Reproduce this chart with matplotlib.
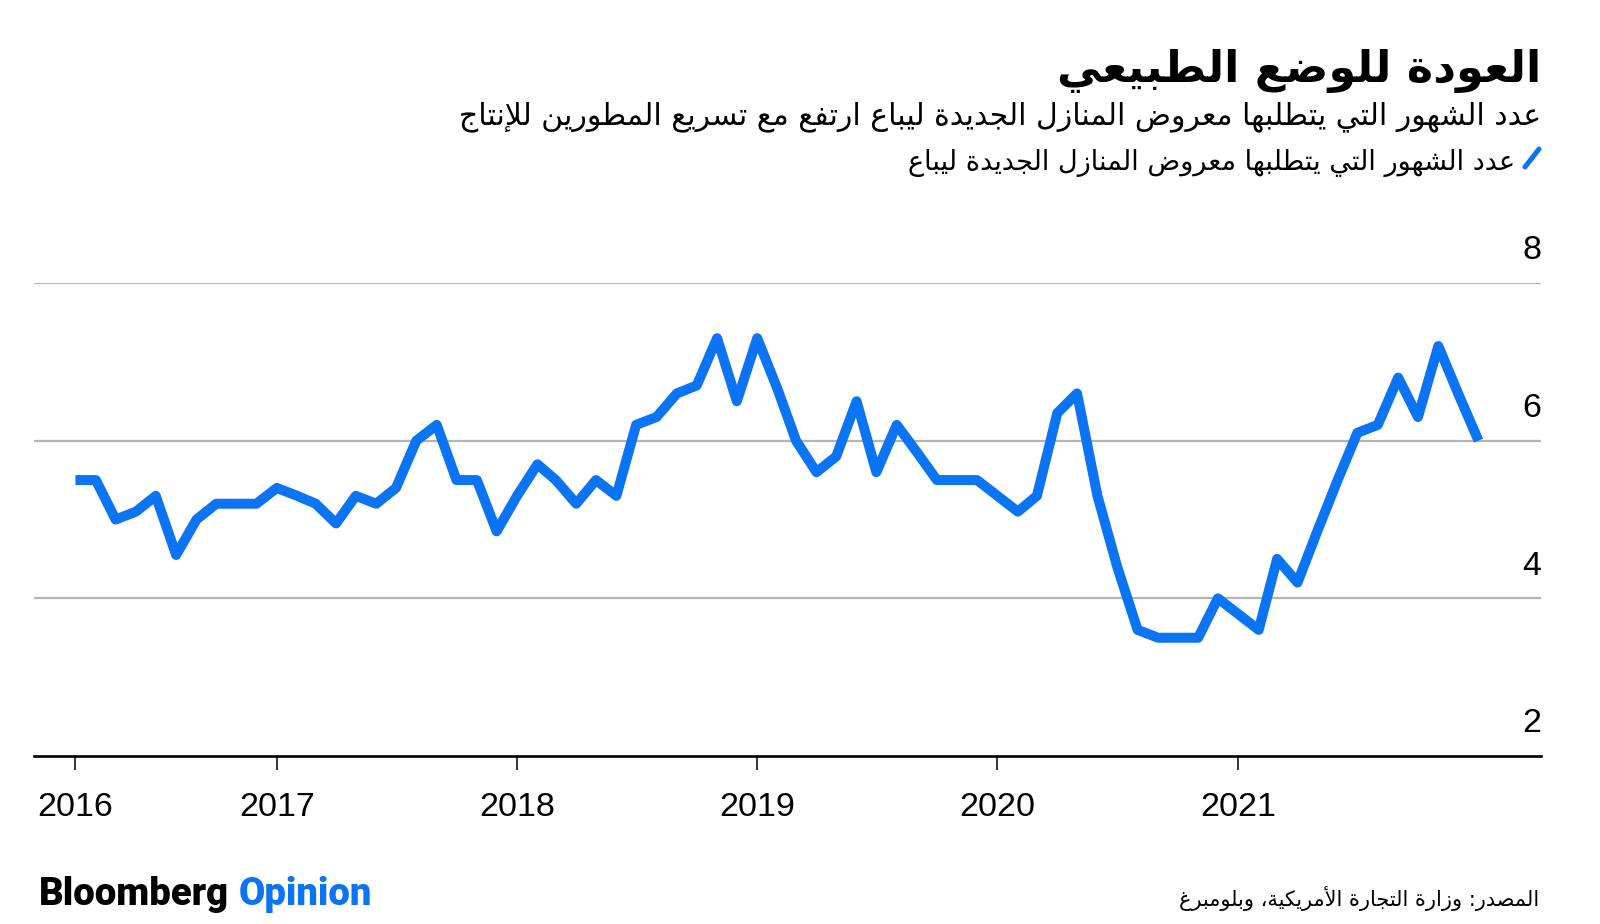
import matplotlib
matplotlib.use('Agg')
import matplotlib.pyplot as plt
import pandas as pd

# months' supply of new homes, Mar 2016 .. Jan 2022
months = pd.date_range('2016-03-01', '2022-01-01', freq='MS')
supply = [5.5, 5.5, 5.0, 5.1, 5.3, 4.55, 5.0, 5.2, 5.2, 5.2,
          5.4, 5.3, 5.2, 4.95, 5.3, 5.2, 5.4, 6.0, 6.2, 5.5, 5.5, 4.85,
          5.3, 5.7, 5.5, 5.2, 5.5, 5.3, 6.2, 6.3, 6.6, 6.7, 7.3, 6.5,
          7.3, 6.65, 6.0, 5.6, 5.8, 6.5, 5.6, 6.2, 5.85, 5.5, 5.5, 5.5,
          5.3, 5.1, 5.3, 6.35, 6.6, 5.3, 4.4, 3.6, 3.5, 3.5, 3.5, 4.0,
          3.8, 3.6, 4.5, 4.2, 4.85, 5.5, 6.1, 6.2, 6.8, 6.3, 7.2, 6.6,
          6.0]

year_ticks = pd.to_datetime(['2016-03-01', '2017-01-01', '2018-01-01',
                             '2019-01-01', '2020-01-01', '2021-01-01'])
year_labels = ['2016', '2017', '2018', '2019', '2020', '2021']
y_grid = [4, 6, 8]
y_labels = [2, 4, 6, 8]

title = 'العودة للوضع الطبيعي'
subtitle = 'عدد الشهور التي يتطلبها معروض المنازل الجديدة ليباع ارتفع مع تسريع المطورين للإنتاج'
legend_label = 'عدد الشهور التي يتطلبها معروض المنازل الجديدة ليباع'
source = 'المصدر: وزارة التجارة الأمريكية، وبلومبرغ'

BLUE = '#0b74f4'

# matplotlib has no arabic shaping, so pick the presentation forms by hand
# value: (isolated form, number of forms: 2 = joins only to the previous letter)
AR_FORMS = {
    'ء': (0xFE80, 1), 'آ': (0xFE81, 2), 'أ': (0xFE83, 2), 'ؤ': (0xFE85, 2),
    'إ': (0xFE87, 2), 'ئ': (0xFE89, 4), 'ا': (0xFE8D, 2), 'ب': (0xFE8F, 4),
    'ة': (0xFE93, 2), 'ت': (0xFE95, 4), 'ث': (0xFE99, 4), 'ج': (0xFE9D, 4),
    'ح': (0xFEA1, 4), 'خ': (0xFEA5, 4), 'د': (0xFEA9, 2), 'ذ': (0xFEAB, 2),
    'ر': (0xFEAD, 2), 'ز': (0xFEAF, 2), 'س': (0xFEB1, 4), 'ش': (0xFEB5, 4),
    'ص': (0xFEB9, 4), 'ض': (0xFEBD, 4), 'ط': (0xFEC1, 4), 'ظ': (0xFEC5, 4),
    'ع': (0xFEC9, 4), 'غ': (0xFECD, 4), 'ف': (0xFED1, 4), 'ق': (0xFED5, 4),
    'ك': (0xFED9, 4), 'ل': (0xFEDD, 4), 'م': (0xFEE1, 4), 'ن': (0xFEE5, 4),
    'ه': (0xFEE9, 4), 'و': (0xFEED, 2), 'ى': (0xFEEF, 2), 'ي': (0xFEF1, 4),
}
LAM_ALEF = {'آ': 0xFEF5, 'أ': 0xFEF7, 'إ': 0xFEF9, 'ا': 0xFEFB}


def joins_next(c):
    return c in AR_FORMS and AR_FORMS[c][1] == 4


def joins_prev(c):
    return c in AR_FORMS and AR_FORMS[c][1] > 1


def shape_ar(text):
    out = []
    prev = None
    i = 0
    while i < len(text):
        c = text[i]
        nxt = text[i + 1] if i + 1 < len(text) else None
        if c not in AR_FORMS:
            out.append(c)
            prev = None
            i += 1
            continue
        from_prev = prev is not None and joins_next(prev)
        if c == 'ل' and nxt in LAM_ALEF:
            out.append(chr(LAM_ALEF[nxt] + (1 if from_prev else 0)))
            prev = nxt
            i += 2
            continue
        base, nforms = AR_FORMS[c]
        to_next = nforms == 4 and nxt is not None and joins_prev(nxt)
        if nforms == 1:
            form = 0
        elif nforms == 2:
            form = 1 if from_prev else 0
        else:
            form = {(False, False): 0, (True, False): 1,
                    (False, True): 2, (True, True): 3}[(from_prev, to_next)]
        out.append(chr(base + form))
        prev = c
        i += 1
    return ''.join(reversed(out))


W, H = 1600, 924
fig = plt.figure(figsize=(W / 100, H / 100), dpi=100)
ax = fig.add_axes([34 / W, 1 - 756 / H, (1541 - 34) / W, (756 - 283) / H])

for g in y_grid:
    ax.axhline(g, color='#b4b4b4', lw=1.6, zorder=1)
ax.plot(months, supply, color=BLUE, lw=7.2, solid_joinstyle='round',
        solid_capstyle='butt', zorder=3, clip_on=False)

ax.set_ylim(2, 8)
ax.set_xlim(months[0] - pd.Timedelta(days=63), months[-1] + pd.Timedelta(days=95))
ax.set_yticks([])
ax.set_xticks(year_ticks)
ax.set_xticklabels(year_labels, fontfamily='Liberation Sans', fontsize=24.5)
ax.tick_params(axis='x', length=10, width=1.1, color='black', pad=16)
for s in ['left', 'right', 'top']:
    ax.spines[s].set_visible(False)
ax.spines['bottom'].set_linewidth(1.9)
ax.spines['bottom'].set_color('black')

for v in y_labels:
    ax.annotate(str(v), xy=(1, v), xycoords=('axes fraction', 'data'),
                xytext=(0, 17), textcoords='offset points', ha='right',
                va='baseline', fontsize=24.5, fontfamily='Liberation Sans')

ar = ['DejaVu Sans']
fig.text(1541 / W, 1 - 82 / H, shape_ar(title), ha='right', va='baseline',
         fontsize=32, fontweight='bold', family=ar)
fig.text(1541 / W, 1 - 124 / H, shape_ar(subtitle), ha='right', va='baseline',
         fontsize=21.5, family=ar)
fig.text(1515 / W, 1 - 170 / H, shape_ar(legend_label), ha='right', va='baseline',
         fontsize=19.5, family=ar)
fig.add_artist(plt.Line2D([1525 / W, 1539 / W], [1 - 167 / H, 1 - 149 / H],
                          color=BLUE, lw=3.6, solid_capstyle='round'))
fig.text(1539 / W, 1 - 906 / H, shape_ar(source), ha='right', va='baseline',
         fontsize=15, family=ar)

logo = fig.text(39 / W, 1 - 905 / H, 'Bloomberg', ha='left', va='baseline',
                fontsize=27.5, fontweight='heavy', family=['Roboto'])
fig.canvas.draw()
bb = logo.get_window_extent()
fig.text((bb.x1 + 10) / W, 1 - 905 / H, 'Opinion', ha='left', va='baseline',
         fontsize=27.5, fontweight='heavy', family=['Roboto'], color=BLUE)

fig.savefig('out.png', dpi=100)
